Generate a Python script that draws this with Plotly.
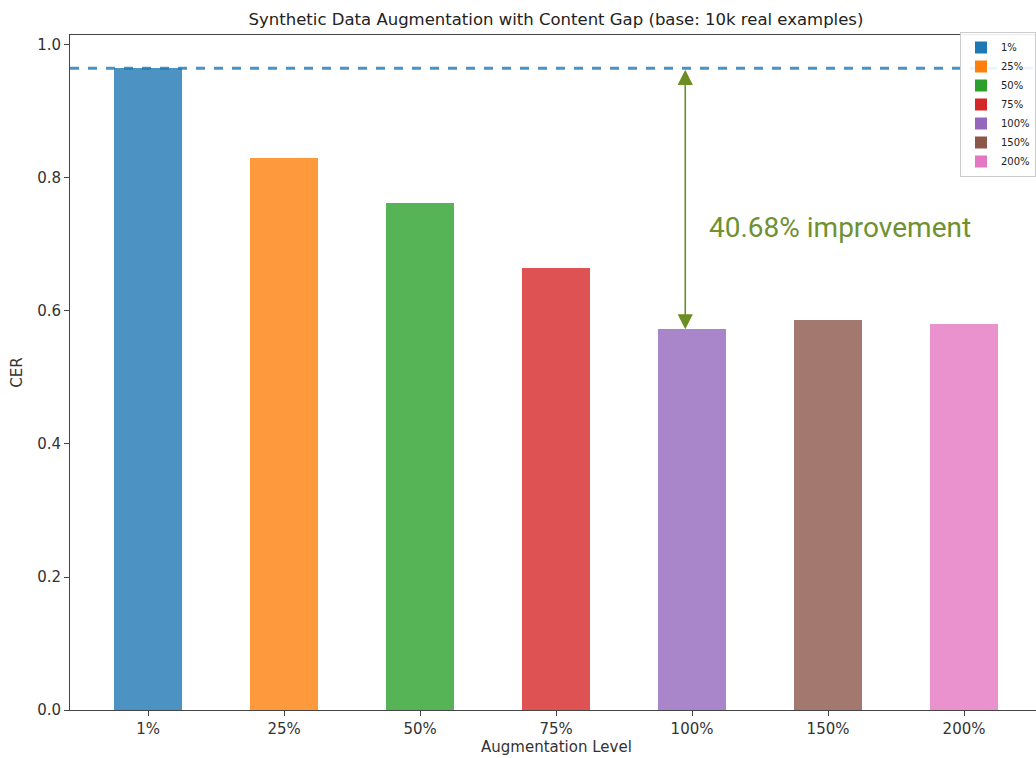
import plotly.graph_objects as go

categories = ["1%", "25%", "50%", "75%", "100%", "150%", "200%"]
cer_values = [0.965, 0.830, 0.762, 0.665, 0.5724, 0.586, 0.580]
colors = ["#1f77b4", "#ff7f0e", "#2ca02c", "#d62728", "#9467bd", "#8c564b", "#e377c2"]
y_ticks = [0.0, 0.2, 0.4, 0.6, 0.8, 1.0]

base = cer_values[0]
best = min(cer_values)
best_idx = cer_values.index(best)
improvement = (base - best) / base * 100

W, H = 1036, 758
L, T, B = 70, 35, 48
plot_w = W - L
plot_h = H - T - B
fig = go.Figure()
for i, (cat, val, col) in enumerate(zip(categories, cer_values, colors)):
    fig.add_trace(go.Bar(
        x=[i], y=[val], name=cat, width=0.5,
        marker=dict(color=col, opacity=0.8, line=dict(width=0)),
    ))

fig.add_shape(type="line", xref="x domain", yref="y", x0=0, x1=1, y0=base, y1=base,
              line=dict(color="#1f77b4", width=3, dash="dash"), layer="above", opacity=0.8)

fig.add_annotation(x=best_idx - 0.05, y=best, ax=best_idx - 0.05, ay=base,
                   xref="x", yref="y", axref="x", ayref="y", text="",
                   showarrow=True, arrowhead=2, arrowside="end+start", arrowsize=1.9,
                   arrowwidth=1.6, arrowcolor="#6b8e23")
fig.add_annotation(x=best_idx + 0.11, y=0.725, xref="x", yref="y", xanchor="left", yanchor="middle",
                   text=f"{improvement:.2f}% improvement", showarrow=False,
                   font=dict(family="Roboto", size=28, color="#6f9130"))
fig.add_annotation(x=((L + 1042) / 2 - L) / plot_w, y=-(747 - (H - B)) / plot_h,
                   xref="paper", yref="paper", xanchor="center", yanchor="middle",
                   text="Augmentation Level", showarrow=False,
                   font=dict(size=15, color="#333"))

fig.update_layout(
    width=W, height=H,
    margin=dict(l=L, r=0, t=T, b=B),
    plot_bgcolor="white", paper_bgcolor="white",
    font=dict(family="DejaVu Sans", color="#333"),
    title=dict(text="Synthetic Data Augmentation with Content Gap (base: 10k real examples)",
               x=(L + 1042) / 2 / W, xanchor="center", y=1 - 19 / H, yanchor="middle",
               font=dict(size=16.5, color="#222")),
    showlegend=True,
    legend=dict(x=1, y=1 + 3 / plot_h, xanchor="right", yanchor="top", bgcolor="rgba(255,255,255,0.9)",
                bordercolor="#ccc", borderwidth=1, font=dict(size=10, color="#222"),
                itemwidth=30, tracegroupgap=0),
    bargap=0,
    hovermode=False,
)
fig.update_xaxes(
    range=[-0.574, -0.574 + plot_w / 136], tickmode="array", tickvals=list(range(len(categories))),
    ticktext=categories, ticks="outside", ticklen=5, tickcolor="#444",
    showline=True, linecolor="#444", linewidth=1, mirror=True, showgrid=False, zeroline=False,
    tickfont=dict(size=15, color="#333"),
)
fig.update_yaxes(
    range=[0, 1.015], tickmode="array", tickvals=y_ticks, ticktext=[f"{v:.1f}" for v in y_ticks],
    ticks="outside", ticklen=5, tickcolor="#444",
    showline=True, linecolor="#444", linewidth=1, showgrid=False, zeroline=False,
    tickfont=dict(size=15, color="#333"),
    title=dict(text="CER", font=dict(size=15, color="#333"), standoff=10),
)

fig.write_html("out.html", config={"displayModeBar": False},
               post_script="document.body.style.margin='0';document.body.style.overflow='hidden';")
